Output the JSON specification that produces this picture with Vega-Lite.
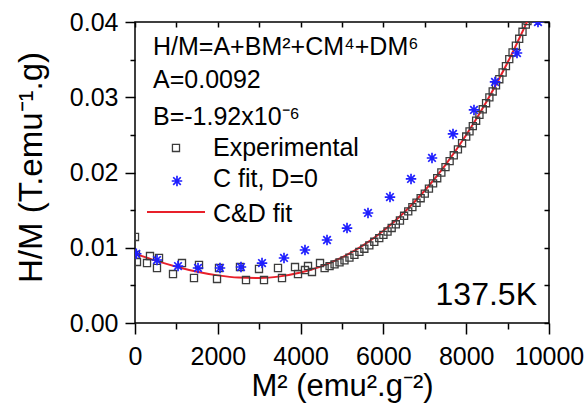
{
  "$schema": "https://vega.github.io/schema/vega-lite/v6.json",
  "width": 414,
  "height": 301,
  "autosize": {"type": "none"},
  "padding": {"left": 135, "top": 22, "right": 39, "bottom": 92},
  "background": "white",
  "config": {
    "view": {"stroke": "black", "strokeWidth": 1.5},
    "axis": {
      "grid": false, "domain": false, "tickColor": "black", "tickWidth": 1.5,
      "labelFont": "Liberation Sans", "labelFontSize": 25, "labelColor": "black",
      "titleFont": "Liberation Sans", "titleFontSize": 28, "titleFontWeight": "normal", "titleColor": "black",
      "labelFlush": false, "labelOverlap": false
    }
  },
  "datasets": {
    "exp": [
      {"m2": 0, "hm": 0.01143}, {"m2": 24, "hm": 0.00904}, {"m2": 48, "hm": 0.00811},
      {"m2": 290, "hm": 0.00797}, {"m2": 362, "hm": 0.0089}, {"m2": 531, "hm": 0.00731},
      {"m2": 580, "hm": 0.00864}, {"m2": 918, "hm": 0.00651}, {"m2": 1135, "hm": 0.00797},
      {"m2": 1425, "hm": 0.00598}, {"m2": 1546, "hm": 0.00771}, {"m2": 1981, "hm": 0.00585},
      {"m2": 2029, "hm": 0.00731}, {"m2": 2536, "hm": 0.00744}, {"m2": 2681, "hm": 0.00571},
      {"m2": 2995, "hm": 0.00718}, {"m2": 3116, "hm": 0.00571}, {"m2": 3454, "hm": 0.00731},
      {"m2": 3551, "hm": 0.00598}, {"m2": 3865, "hm": 0.00744}, {"m2": 3937, "hm": 0.00651},
      {"m2": 4106, "hm": 0.00704}, {"m2": 4179, "hm": 0.00757}, {"m2": 4275, "hm": 0.00678},
      {"m2": 4469, "hm": 0.00797}, {"m2": 4580, "hm": 0.00729}, {"m2": 4700, "hm": 0.00756},
      {"m2": 4820, "hm": 0.00779}, {"m2": 4940, "hm": 0.00805}, {"m2": 5060, "hm": 0.00833},
      {"m2": 5180, "hm": 0.00868}, {"m2": 5300, "hm": 0.00905}, {"m2": 5420, "hm": 0.00945},
      {"m2": 5540, "hm": 0.00987}, {"m2": 5660, "hm": 0.01032}, {"m2": 5780, "hm": 0.01079},
      {"m2": 5900, "hm": 0.01128}, {"m2": 6000, "hm": 0.01171}, {"m2": 6100, "hm": 0.01216},
      {"m2": 6200, "hm": 0.01263}, {"m2": 6300, "hm": 0.01312}, {"m2": 6400, "hm": 0.01362},
      {"m2": 6500, "hm": 0.01425}, {"m2": 6600, "hm": 0.01484}, {"m2": 6700, "hm": 0.0154},
      {"m2": 6800, "hm": 0.01598}, {"m2": 6900, "hm": 0.01658}, {"m2": 7000, "hm": 0.0172},
      {"m2": 7100, "hm": 0.01785}, {"m2": 7200, "hm": 0.01856}, {"m2": 7300, "hm": 0.01924},
      {"m2": 7400, "hm": 0.02}, {"m2": 7500, "hm": 0.02072}, {"m2": 7600, "hm": 0.02152},
      {"m2": 7700, "hm": 0.02229}, {"m2": 7800, "hm": 0.02308}, {"m2": 7900, "hm": 0.02389},
      {"m2": 8000, "hm": 0.02478}, {"m2": 8080, "hm": 0.02546}, {"m2": 8160, "hm": 0.02616},
      {"m2": 8240, "hm": 0.02688}, {"m2": 8320, "hm": 0.02765}, {"m2": 8400, "hm": 0.0284},
      {"m2": 8480, "hm": 0.02921}, {"m2": 8560, "hm": 0.02998}, {"m2": 8640, "hm": 0.03077},
      {"m2": 8720, "hm": 0.03158}, {"m2": 8800, "hm": 0.0324}, {"m2": 8880, "hm": 0.03329},
      {"m2": 8960, "hm": 0.03414}, {"m2": 9040, "hm": 0.03506}, {"m2": 9120, "hm": 0.03595},
      {"m2": 9200, "hm": 0.03685}, {"m2": 9280, "hm": 0.03777}, {"m2": 9360, "hm": 0.0387},
      {"m2": 9440, "hm": 0.03965}, {"m2": 9480, "hm": 0.04013}
    ],
    "cfit": [
      {"m2": 30, "hm": 0.0092}, {"m2": 531, "hm": 0.00837}, {"m2": 1039, "hm": 0.00757},
      {"m2": 1522, "hm": 0.00731}, {"m2": 2053, "hm": 0.00731}, {"m2": 2560, "hm": 0.00744},
      {"m2": 3068, "hm": 0.00797}, {"m2": 3599, "hm": 0.00864}, {"m2": 4106, "hm": 0.0097},
      {"m2": 4638, "hm": 0.01103}, {"m2": 5121, "hm": 0.01262}, {"m2": 5628, "hm": 0.01462},
      {"m2": 6159, "hm": 0.01674}, {"m2": 6667, "hm": 0.01914}, {"m2": 7174, "hm": 0.02193},
      {"m2": 7681, "hm": 0.02512}, {"m2": 8188, "hm": 0.02831}, {"m2": 8696, "hm": 0.03203},
      {"m2": 9227, "hm": 0.03588}, {"m2": 9734, "hm": 0.04}
    ],
    "cdfit": [
      {"m2": 0, "hm": 0.0092}, {"m2": 500, "hm": 0.008285}, {"m2": 1000, "hm": 0.007482},
      {"m2": 1500, "hm": 0.006819}, {"m2": 2000, "hm": 0.00633}, {"m2": 2500, "hm": 0.006042},
      {"m2": 3000, "hm": 0.005987}, {"m2": 3500, "hm": 0.006196}, {"m2": 4000, "hm": 0.006699},
      {"m2": 4500, "hm": 0.007527}, {"m2": 5000, "hm": 0.008711}, {"m2": 5500, "hm": 0.010278},
      {"m2": 6000, "hm": 0.012264}, {"m2": 6500, "hm": 0.014695}, {"m2": 7000, "hm": 0.017604},
      {"m2": 7500, "hm": 0.021021}, {"m2": 8000, "hm": 0.024976}, {"m2": 8500, "hm": 0.0295},
      {"m2": 9000, "hm": 0.034623}, {"m2": 9500, "hm": 0.040377}
    ]
  },
  "resolve": {"axis": {"x": "independent", "y": "independent"}},
  "layer": [
    {
      "data": {"name": "cdfit"},
      "mark": {"type": "line", "color": "#e8202a", "strokeWidth": 2, "interpolate": "monotone", "clip": true},
      "encoding": {
        "x": {"field": "m2", "type": "quantitative", "scale": {"domain": [0, 10000], "nice": false},
              "axis": {"orient": "top", "values": [0,1000,2000,3000,4000,5000,6000,7000,8000,9000,10000], "tickSize": -5, "labels": false, "title": null}},
        "y": {"field": "hm", "type": "quantitative", "scale": {"domain": [0, 0.04], "nice": false},
              "axis": {"orient": "right", "values": [0,0.005,0.01,0.015,0.02,0.025,0.03,0.035,0.04], "tickSize": -5, "labels": false, "title": null}}
      }
    },
    {
      "data": {"name": "exp"},
      "mark": {"type": "point", "shape": "square", "filled": false, "stroke": "#3c3c3c", "strokeWidth": 1.3, "size": 50, "opacity": 1, "clip": true},
      "encoding": {
        "x": {"field": "m2", "type": "quantitative", "scale": {"domain": [0, 10000], "nice": false},
              "axis": {"orient": "bottom", "values": [0,2000,4000,6000,8000,10000], "format": "d", "tickSize": 11, "labelPadding": 10, "title": "M² (emu².g⁻²)", "titleFontSize": 31, "titlePadding": 2}},
        "y": {"field": "hm", "type": "quantitative", "scale": {"domain": [0, 0.04], "nice": false},
              "axis": {"orient": "left", "values": [0,0.01,0.02,0.03,0.04], "format": ".2f", "tickSize": 10, "labelPadding": 7, "title": "H/M (T.emu⁻¹.g)", "titleFontSize": 33, "titlePadding": 21, "titleY": 145}}
      }
    },
    {
      "data": {"name": "cfit"},
      "mark": {"type": "point", "shape": "M0,-1L0,1M-1,0L1,0M-0.72,-0.72L0.72,0.72M-0.72,0.72L0.72,-0.72", "filled": false, "stroke": "#1f1fff", "strokeWidth": 1.7, "size": 110, "opacity": 1, "clip": true},
      "encoding": {
        "x": {"field": "m2", "type": "quantitative", "scale": {"domain": [0, 10000], "nice": false},
              "axis": {"orient": "bottom", "values": [1000,3000,5000,7000,9000], "tickSize": 6, "labels": false, "title": null}},
        "y": {"field": "hm", "type": "quantitative", "scale": {"domain": [0, 0.04], "nice": false},
              "axis": {"orient": "left", "values": [0.005,0.015,0.025,0.035], "tickSize": 5, "labels": false, "title": null}}
      }
    },
    {
      "data": {"values": [{}]},
      "mark": {"type": "text", "text": "H/M=A+BM²+CM⁴+DM⁶", "align": "left", "baseline": "alphabetic", "font": "Liberation Sans", "fontSize": 25, "color": "black"},
      "encoding": {
        "x": {"datum": 435, "type": "quantitative", "scale": {"domain": [0, 10000], "nice": false}, "axis": null},
        "y": {"datum": 0.03561, "type": "quantitative", "scale": {"domain": [0, 0.04], "nice": false}, "axis": null}
      }
    },
    {
      "data": {"values": [{}]},
      "mark": {"type": "text", "text": "A=0.0092", "align": "left", "baseline": "alphabetic", "font": "Liberation Sans", "fontSize": 25, "color": "black"},
      "encoding": {
        "x": {"datum": 435, "type": "quantitative", "scale": {"domain": [0, 10000], "nice": false}, "axis": null},
        "y": {"datum": 0.03123, "type": "quantitative", "scale": {"domain": [0, 0.04], "nice": false}, "axis": null}
      }
    },
    {
      "data": {"values": [{}]},
      "mark": {"type": "text", "text": "B=-1.92x10⁻⁶", "align": "left", "baseline": "alphabetic", "font": "Liberation Sans", "fontSize": 25, "color": "black"},
      "encoding": {
        "x": {"datum": 435, "type": "quantitative", "scale": {"domain": [0, 10000], "nice": false}, "axis": null},
        "y": {"datum": 0.02631, "type": "quantitative", "scale": {"domain": [0, 0.04], "nice": false}, "axis": null}
      }
    },
    {
      "data": {"values": [{}]},
      "mark": {"type": "point", "shape": "square", "filled": false, "stroke": "#3c3c3c", "strokeWidth": 1.3, "size": 50, "opacity": 1},
      "encoding": {
        "x": {"datum": 990, "type": "quantitative", "scale": {"domain": [0, 10000], "nice": false}, "axis": null},
        "y": {"datum": 0.02326, "type": "quantitative", "scale": {"domain": [0, 0.04], "nice": false}, "axis": null}
      }
    },
    {
      "data": {"values": [{}]},
      "mark": {"type": "point", "shape": "M0,-1L0,1M-1,0L1,0M-0.72,-0.72L0.72,0.72M-0.72,0.72L0.72,-0.72", "filled": false, "stroke": "#1f1fff", "strokeWidth": 1.7, "size": 110, "opacity": 1},
      "encoding": {
        "x": {"datum": 1014, "type": "quantitative", "scale": {"domain": [0, 10000], "nice": false}, "axis": null},
        "y": {"datum": 0.01887, "type": "quantitative", "scale": {"domain": [0, 0.04], "nice": false}, "axis": null}
      }
    },
    {
      "data": {"values": [{}]},
      "mark": {"type": "rule", "color": "#e8202a", "strokeWidth": 2},
      "encoding": {
        "x": {"datum": 290, "type": "quantitative", "scale": {"domain": [0, 10000], "nice": false}, "axis": null},
        "x2": {"datum": 1691},
        "y": {"datum": 0.01475, "type": "quantitative", "scale": {"domain": [0, 0.04], "nice": false}, "axis": null}
      }
    },
    {
      "data": {"values": [{}]},
      "mark": {"type": "text", "text": "Experimental", "align": "left", "baseline": "middle", "font": "Liberation Sans", "fontSize": 25, "color": "black"},
      "encoding": {
        "x": {"datum": 1884, "type": "quantitative", "scale": {"domain": [0, 10000], "nice": false}, "axis": null},
        "y": {"datum": 0.02319, "type": "quantitative", "scale": {"domain": [0, 0.04], "nice": false}, "axis": null}
      }
    },
    {
      "data": {"values": [{}]},
      "mark": {"type": "text", "text": "C fit, D=0", "align": "left", "baseline": "middle", "font": "Liberation Sans", "fontSize": 25, "color": "black"},
      "encoding": {
        "x": {"datum": 1884, "type": "quantitative", "scale": {"domain": [0, 10000], "nice": false}, "axis": null},
        "y": {"datum": 0.0192, "type": "quantitative", "scale": {"domain": [0, 0.04], "nice": false}, "axis": null}
      }
    },
    {
      "data": {"values": [{}]},
      "mark": {"type": "text", "text": "C&D fit", "align": "left", "baseline": "middle", "font": "Liberation Sans", "fontSize": 25, "color": "black"},
      "encoding": {
        "x": {"datum": 1884, "type": "quantitative", "scale": {"domain": [0, 10000], "nice": false}, "axis": null},
        "y": {"datum": 0.01455, "type": "quantitative", "scale": {"domain": [0, 0.04], "nice": false}, "axis": null}
      }
    },
    {
      "data": {"values": [{}]},
      "mark": {"type": "text", "text": "137.5K", "align": "right", "baseline": "alphabetic", "font": "Liberation Sans", "fontSize": 32, "color": "black"},
      "encoding": {
        "x": {"datum": 9710, "type": "quantitative", "scale": {"domain": [0, 10000], "nice": false}, "axis": null},
        "y": {"datum": 0.0024, "type": "quantitative", "scale": {"domain": [0, 0.04], "nice": false}, "axis": null}
      }
    }
  ]
}
